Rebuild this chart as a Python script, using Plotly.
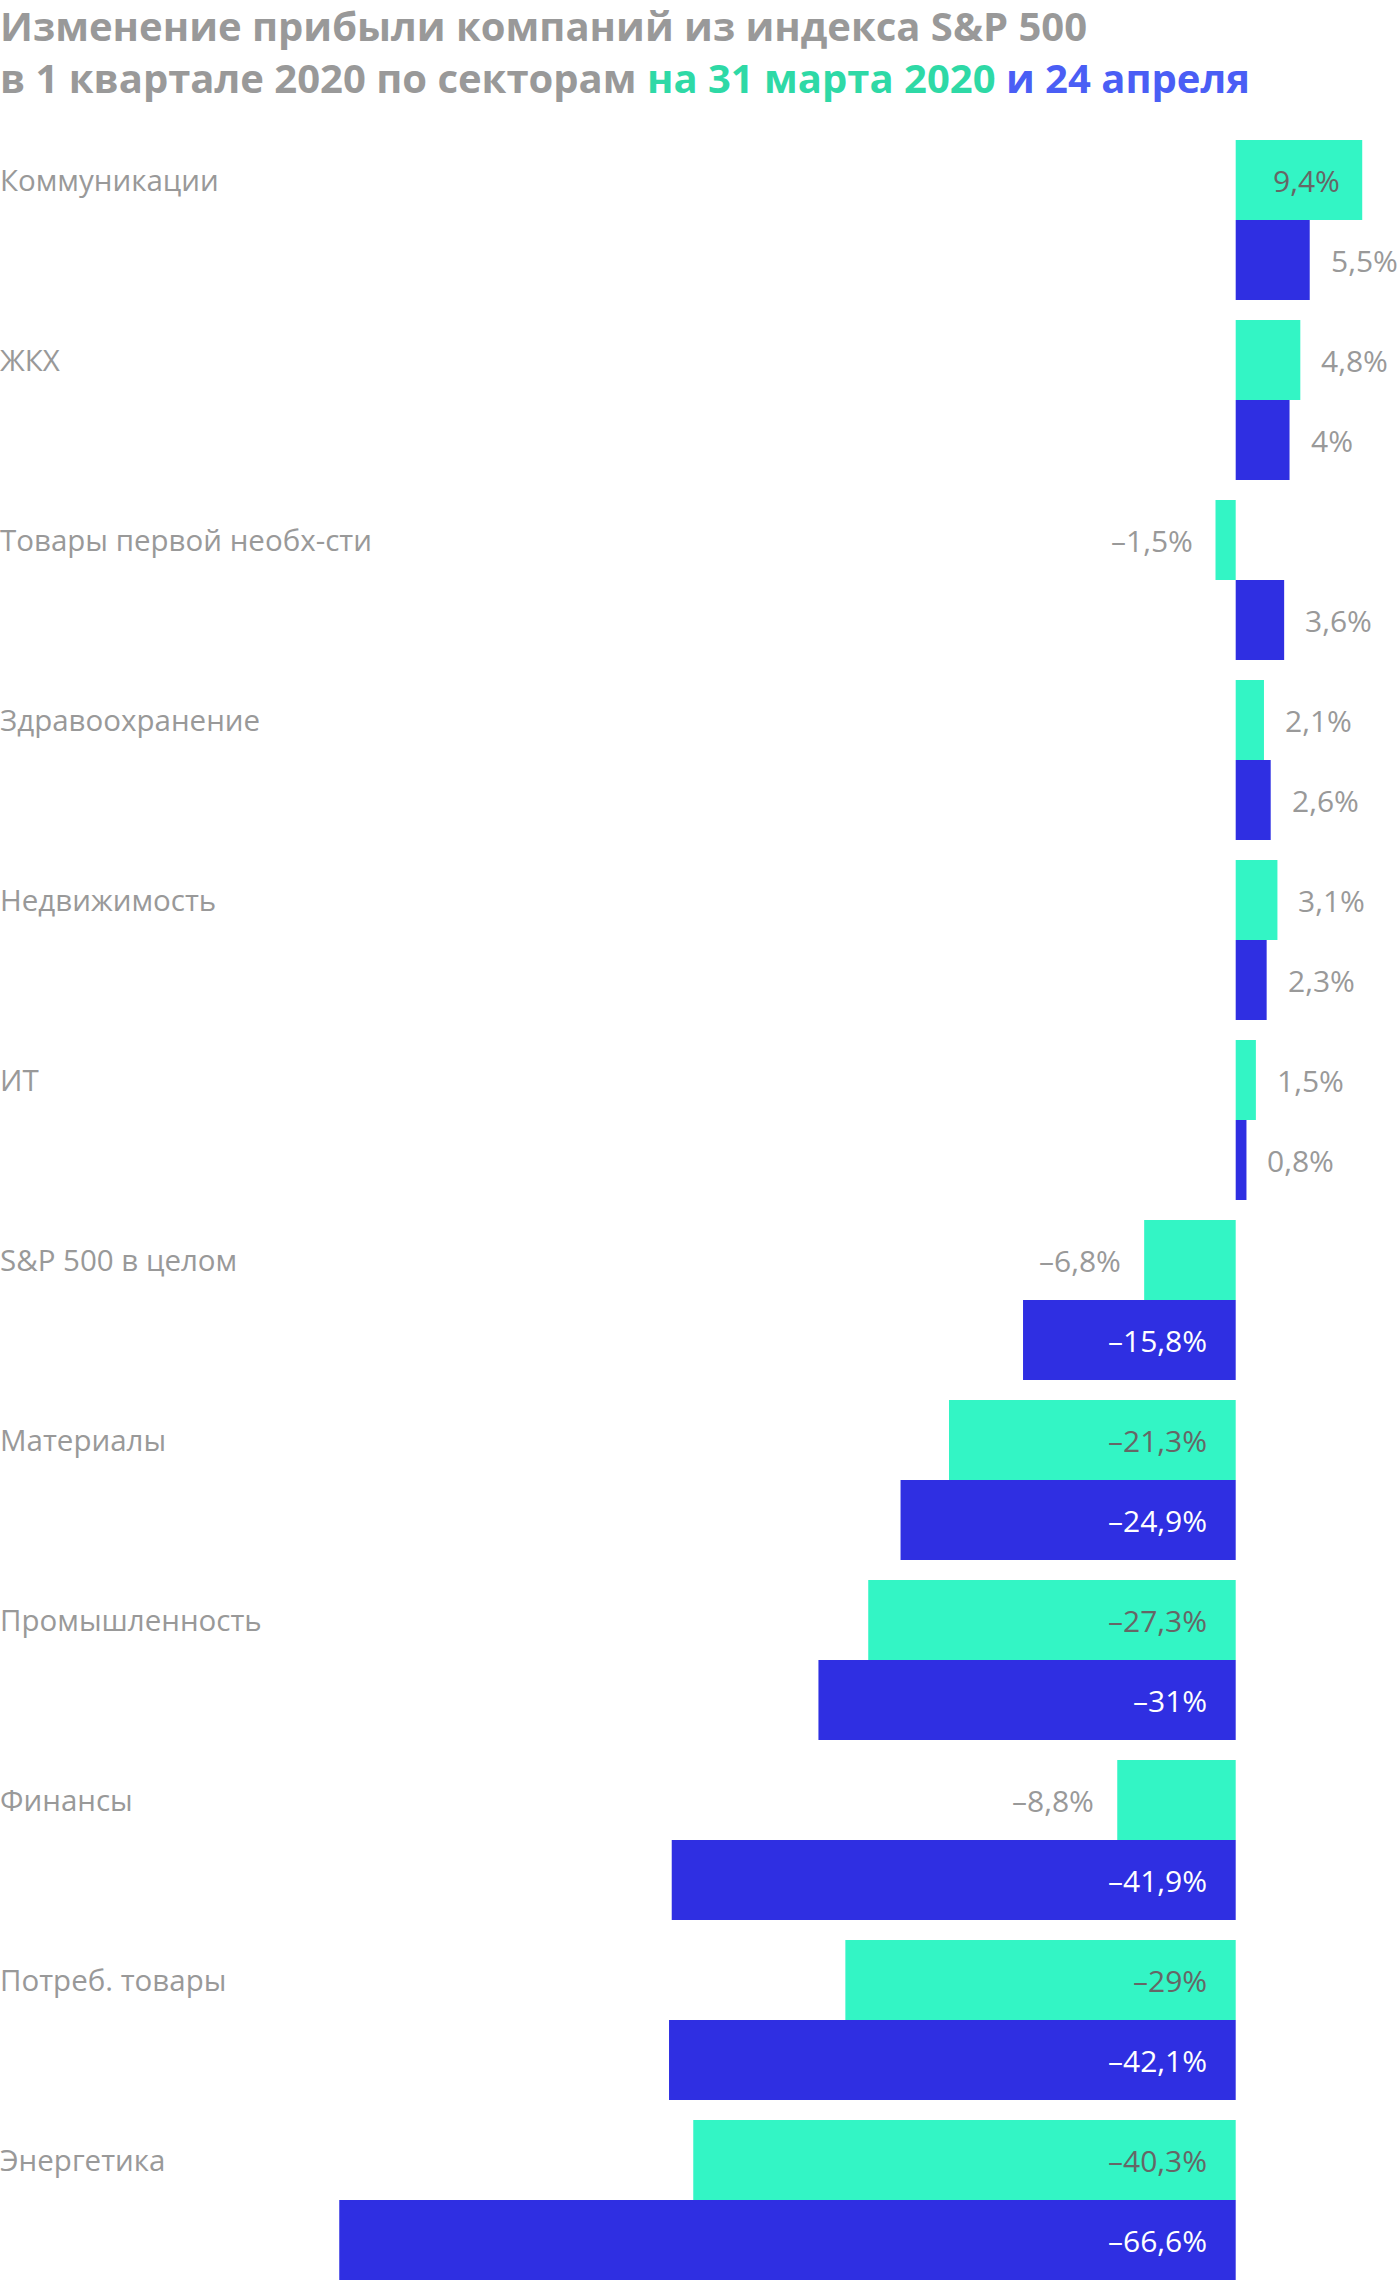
import plotly.graph_objects as go

categories = ["Коммуникации", "ЖКХ", "Товары первой необх-сти", "Здравоохранение",
              "Недвижимость", "ИТ", "S&P 500 в целом", "Материалы", "Промышленность",
              "Финансы", "Потреб. товары", "Энергетика"]
march31 = [9.4, 4.8, -1.5, 2.1, 3.1, 1.5, -6.8, -21.3, -27.3, -8.8, -29.0, -40.3]
april24 = [5.5, 4.0, 3.6, 2.6, 2.3, 0.8, -15.8, -24.9, -31.0, -41.9, -42.1, -66.6]

title_line1 = "Изменение прибыли компаний из индекса S&P 500"
title_line2 = ("в 1 квартале 2020 по секторам "
               "<span style='color:#2ED9A6'>на 31 марта 2020</span> "
               "<span style='color:#4A5EF5'>и 24 апреля</span>")

GREEN = "#33F5C5"
BLUE = "#2F2FE2"
GRAY = "#999999"
DARK = "#666666"
FONT = "Open Sans"
CSIZE = 29.5
VSIZE = 30

fig = go.Figure()
fig.add_trace(go.Bar(y=categories, x=march31, orientation="h", marker_color=GREEN,
                     marker_line_width=0, name="31 марта", hoverinfo="skip"))
fig.add_trace(go.Bar(y=categories, x=april24, orientation="h", marker_color=BLUE,
                     marker_line_width=0, name="24 апреля", hoverinfo="skip"))


def fmt(v):
    s = ("%.1f" % abs(v)).replace(".", ",")
    if s.endswith(",0"):
        s = s[:-2]
    return ("–" if v < 0 else "") + s + "%"


annotations = []
INSIDE_MIN = 9.0
for vals, shift, color_in in [(march31, 40, DARK), (april24, -40, "#FFFFFF")]:
    for c, v in zip(categories, vals):
        if v < 0 and abs(v) >= 10:
            a = dict(x=0, xanchor="right", xshift=-27, color=color_in)
        elif v > 0 and v >= INSIDE_MIN:
            a = dict(x=v, xanchor="right", xshift=-20, color=color_in)
        elif v > 0:
            a = dict(x=v, xanchor="left", xshift=19, color=GRAY)
        else:
            a = dict(x=v, xanchor="right", xshift=-21, color=GRAY)
        annotations.append(dict(x=a["x"], y=c, xref="x", yref="y", text=fmt(v),
                                xanchor=a["xanchor"], yanchor="middle", xshift=a["xshift"],
                                yshift=shift, showarrow=False,
                                font=dict(family=FONT, size=VSIZE, color=a["color"])))

for c in categories:
    annotations.append(dict(x=0, y=c, xref="paper", yref="y", text=c, xanchor="left",
                            yanchor="middle", yshift=41, xshift=-2, showarrow=False,
                            font=dict(family=FONT, size=CSIZE, color=GRAY)))

annotations.append(dict(x=0, y=1, xref="paper", yref="paper",
                        text="<b>" + title_line1 + "<br>" + title_line2 + "</b>",
                        xanchor="left", yanchor="top", align="left", showarrow=False,
                        yshift=144, xshift=-2, font=dict(family=FONT, size=40, color=GRAY)))

PX_PER = 13.46
ZERO = 1235.7
n = len(categories)
half = 80 / 180

fig.update_layout(
    width=1400, height=2280,
    margin=dict(l=0, r=0, t=140, b=0, pad=0),
    paper_bgcolor="white", plot_bgcolor="white",
    barmode="group", bargap=20 / 180, bargroupgap=0,
    showlegend=False, hovermode=False,
    xaxis=dict(range=[-ZERO / PX_PER, (1400 - ZERO) / PX_PER], visible=False, fixedrange=True),
    yaxis=dict(type="category", categoryorder="array", categoryarray=categories,
               range=[n - 1 + half, -half], visible=False, fixedrange=True),
    annotations=annotations,
)

fig.write_html("out.html", config={"displayModeBar": False},
               post_script="document.body.style.margin='0';")
